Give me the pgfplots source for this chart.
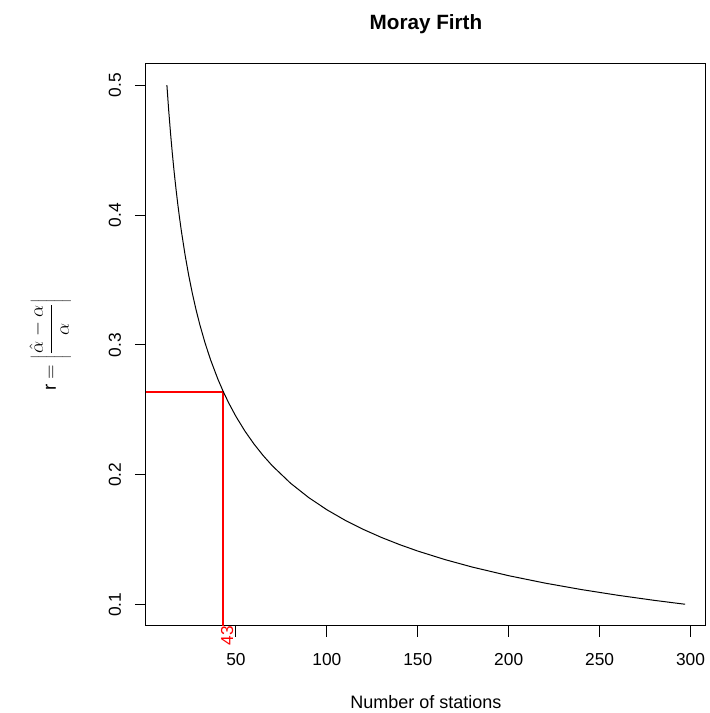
\documentclass[border=0pt]{standalone}
\usepackage{pgfplots}
\pgfplotsset{compat=1.18}
\usepackage{fontspec}
\setmainfont{Liberation Sans}
\definecolor{rred}{RGB}{255,0,0}
\begin{document}
\begin{tikzpicture}
\begin{axis}[
  scale only axis,
  width=420pt, height=421.5pt,
  xmin=0.5, xmax=308.5,
  ymin=0.0838, ymax=0.5162,
  xtick={50,100,150,200,250,300},
  ytick={0.1,0.2,0.3,0.4,0.5},
  yticklabels={0.1,0.2,0.3,0.4,0.5},
  tick align=outside,
  major tick length=8.25pt,
  tick style={black, line width=0.75pt},
  axis line style={black, line width=0.75pt},
  xtick pos=bottom, ytick pos=left,
  /pgf/number format/assume math mode=true,
  ticklabel style={font=\fontsize{13}{15}\selectfont},
  xticklabel style={anchor=center, yshift=-17.25pt},
  yticklabel style={rotate=90, anchor=center, yshift=15pt},
  title={Moray Firth},
  title style={font=\fontsize{15.5}{18}\selectfont\bfseries, at={(axis description cs:0.5,1)}, anchor=center, yshift=23.5pt},
  xlabel={Number of stations},
  xlabel style={font=\fontsize{13.5}{15}\selectfont, at={(axis description cs:0.5,0)}, anchor=center, yshift=-57pt},
  ylabel={$\mathrm{r}=\left|\displaystyle\frac{\hat{\alpha}-\alpha}{\alpha}\right|$},
  ylabel style={font=\fontsize{14}{16}\selectfont, at={(axis description cs:-0.171,0.5)}, anchor=center, rotate=0},
  clip=false,
]
\addplot[rred, line width=1.5pt, mark=none] coordinates {(0.5,0.26414) (43,0.26414) (43,0.0838)};
\addplot[draw=black, line width=0.75pt, mark=none] coordinates {
(12,0.50000) (13,0.48038) (14,0.46291) (15,0.44721) (16,0.43301) (17,0.42008)
(18,0.40825) (19,0.39736) (20,0.38730) (22,0.36927) (24,0.35355) (26,0.33968)
(28,0.32733) (30,0.31623) (33,0.30151) (36,0.28868) (40,0.27386) (43,0.26414)
(46,0.25538) (50,0.24495) (55,0.23355) (60,0.22361) (65,0.21483) (70,0.20702)
(80,0.19365) (90,0.18257) (100,0.17321) (110,0.16514) (120,0.15811) (130,0.15191)
(140,0.14639) (150,0.14142) (165,0.13484) (180,0.12910) (200,0.12247) (220,0.11677)
(240,0.11180) (260,0.10742) (280,0.10351) (297,0.10050)
};
\node[text=rred, rotate=90, anchor=east, inner sep=0pt, font=\fontsize{13}{15}\selectfont, yshift=-3pt] at (axis cs:43,0.0838) {43};
\end{axis}
\path[use as bounding box] ([shift={(-109.5pt,-65.25pt)}]current axis.south west) rectangle ([shift={(1.5pt,48pt)}]current axis.north east);
\end{tikzpicture}
\end{document}
